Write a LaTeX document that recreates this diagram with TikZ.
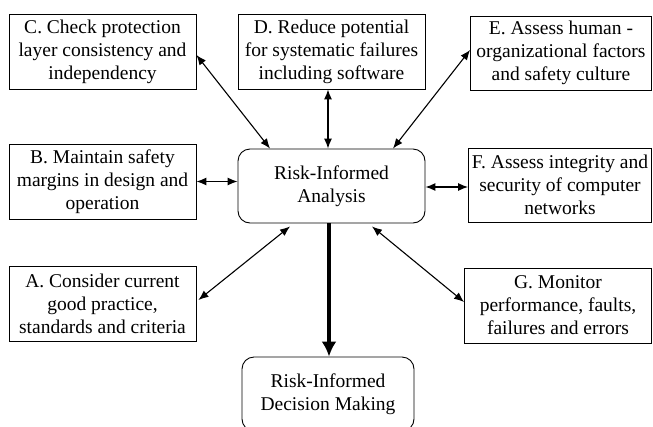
\documentclass[tikz,border=0pt]{standalone}
\usepackage{fontspec}
\setmainfont{Liberation Serif}
\usetikzlibrary{arrows.meta,calc}
\begin{document}
\begin{tikzpicture}[x=1pt,y=-1pt,
  box/.style={draw, line width=0.9pt, align=center, inner sep=0pt,
    font=\fontsize{19.5}{23}\selectfont},
  rbox/.style={box, rounded corners=12pt},
  link/.style={line width=1.1pt, {Latex[length=10pt,width=8pt]}-{Latex[length=10pt,width=8pt]}},
  thick link/.style={line width=4pt, -{Latex[length=15pt,width=15pt]}}]
\useasboundingbox (0,0) rectangle (653,426);
\clip (0,0) rectangle (653,426);
\node[box, minimum width=187pt, minimum height=75pt] (C) at (102.5,51.5) {C. Check protection\\layer consistency and\\independency};
\node[box, minimum width=187pt, minimum height=75pt] (D) at (331.5,51.5) {D. Reduce potential\\for systematic failures\\including software};
\node[box, minimum width=181pt, minimum height=74pt] (E) at (561,53) {E. Assess human -\\organizational factors\\and safety culture};
\node[box, minimum width=187pt, minimum height=75pt] (B) at (102.5,181.5) {B. Maintain safety\\margins in design and\\operation};
\node[rbox, minimum width=187pt, minimum height=74pt] (R) at (331.5,186) {Risk-Informed\\Analysis};
\node[box, minimum width=183pt, minimum height=74pt] (F) at (560,185) {F. Assess integrity and\\security of computer\\networks};
\node[box, minimum width=187pt, minimum height=75pt] (A) at (102.5,303.5) {A. Consider current\\good practice,\\standards and criteria};
\node[box, minimum width=187pt, minimum height=75pt] (G) at (558,305.5) {G. Monitor\\performance, faults,\\failures and errors};
\node[rbox, minimum width=172pt, minimum height=74pt] (S) at (328,394) {Risk-Informed\\Decision Making};
\coordinate (fw) at ($(F.west)+(0,2)$);
\draw[link] ($(C.east)+(0,3.5)$) -- ($(R.north)+(-61.5,0)$);
\draw[link] ($(D.south)+(-3.5,0)$) -- ($(R.north)+(-3.5,0)$);
\draw[link] ($(R.north)+(61.5,0)$) -- ($(E.west)+(0,-3)$);
\draw[link] (B.east) -- (B.east -| R.west);
\draw[link] (R.east |- fw) -- (fw);
\draw[link] ($(A.east)+(2,-3.5)$) -- ($(R.south)+(-41.5,3)$);
\draw[link] ($(R.south)+(40.5,3)$) -- ($(G.west)+(0,-3.5)$);
\draw[thick link] ($(R.south)+(-2.5,0)$) -- ($(S.north)+(1,0)$);
\end{tikzpicture}
\end{document}
